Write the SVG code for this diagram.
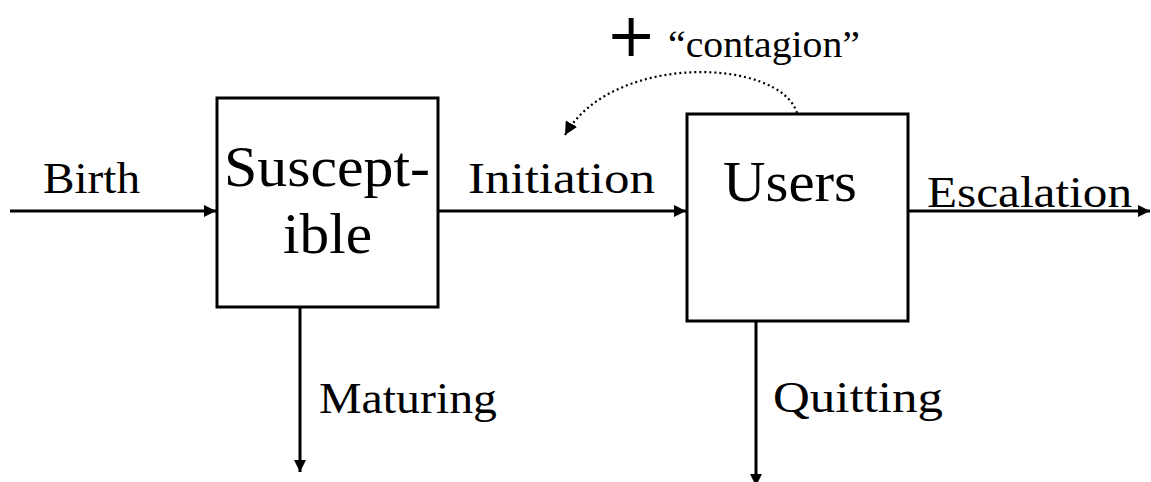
<svg xmlns="http://www.w3.org/2000/svg" width="1151" height="482" viewBox="0 0 1151 482">
<style>
.box{fill:#fff;stroke:#000;stroke-width:3}
.flow{fill:none;stroke:#000;stroke-width:3}
.dot{fill:none;stroke:#000;stroke-width:2.2;stroke-dasharray:2 3}
.lbl{font-family:"Liberation Serif",serif;font-size:45px;fill:#000}
.big{font-family:"Liberation Serif",serif;font-size:56px;fill:#000}
.sm{font-family:"Liberation Serif",serif;font-size:38px;fill:#000}
.plus{font-family:"DejaVu Sans",sans-serif;font-size:60px;fill:#000}
</style>
<defs>
<marker id="ah" viewBox="0 0 10 10" refX="10" refY="5" markerWidth="14" markerHeight="12" markerUnits="userSpaceOnUse" orient="auto">
<path d="M0,0 L10,5 L0,10 z" fill="#000"/>
</marker>
<marker id="ahs" viewBox="0 0 10 10" refX="10" refY="5" markerWidth="13" markerHeight="13" markerUnits="userSpaceOnUse" orient="auto">
<path d="M0,0 L10,5 L0,10 z" fill="#000"/>
</marker>
</defs>
<g id="connectors">
<line class="flow" x1="10" y1="211" x2="216" y2="211" marker-end="url(#ah)"/>
<line class="flow" x1="439" y1="211" x2="686" y2="211" marker-end="url(#ah)"/>
<line class="flow" x1="908" y1="211" x2="1150" y2="211" marker-end="url(#ah)"/>
<line class="flow" x1="300" y1="307" x2="300" y2="472" marker-end="url(#ah)"/>
<line class="flow" x1="756" y1="321" x2="756" y2="486" marker-end="url(#ah)"/>
<path class="dot" d="M797,113 C780,58 612,52 565,135" marker-end="url(#ahs)"/>
</g>
<g id="susceptible">
<rect class="box" x="217" y="98" width="221" height="209"/>
<text class="big" x="224" y="186" textLength="206" lengthAdjust="spacingAndGlyphs">Suscept-</text>
<text class="big" x="283" y="253" textLength="89" lengthAdjust="spacingAndGlyphs">ible</text>
</g>
<g id="users">
<rect class="box" x="687" y="114" width="221" height="207"/>
<text class="big" x="723" y="201" textLength="134" lengthAdjust="spacingAndGlyphs">Users</text>
</g>
<g id="labels">
<text class="lbl" x="43" y="193" textLength="97" lengthAdjust="spacingAndGlyphs">Birth</text>
<text class="lbl" x="468" y="193" textLength="187" lengthAdjust="spacingAndGlyphs">Initiation</text>
<text class="lbl" x="927" y="207" textLength="205" lengthAdjust="spacingAndGlyphs">Escalation</text>
<text class="lbl" x="319" y="413" textLength="178" lengthAdjust="spacingAndGlyphs">Maturing</text>
<text class="lbl" x="773" y="412" textLength="170" lengthAdjust="spacingAndGlyphs">Quitting</text>
<text class="plus" x="606" y="56">+</text>
<text class="sm" x="668" y="57" textLength="192" lengthAdjust="spacingAndGlyphs">“contagion”</text>
</g>
</svg>
